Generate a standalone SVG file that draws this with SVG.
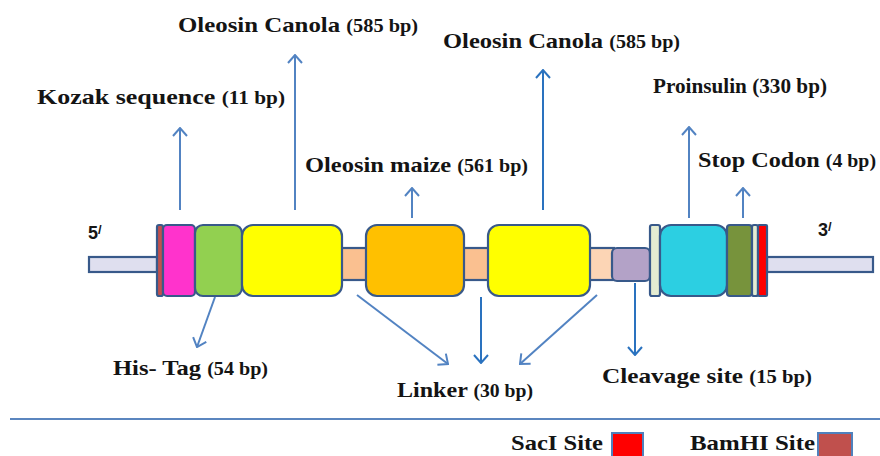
<svg xmlns="http://www.w3.org/2000/svg" width="880" height="456" viewBox="0 0 880 456">
<style>
.bx{stroke:#38598a;stroke-width:2.2}
.t{font-family:"Liberation Serif","Times New Roman",serif;font-weight:bold;fill:#141414;font-size:22px}
.s{font-size:18px}
.end{font-family:"Liberation Sans",Arial,sans-serif;font-weight:bold;font-size:18px;fill:#161616}
.c1{stroke:#5283c2;stroke-width:2;fill:none}
.c2{stroke:#2a72bf;stroke-width:2;fill:none}
</style>
<defs>
<marker id="a1" viewBox="0 0 16 16" markerWidth="16" markerHeight="16" refX="15" refY="8" markerUnits="userSpaceOnUse" orient="auto"><path d="M7,1 L15,8 L7,15" fill="none" stroke="#5283c2" stroke-width="2"/></marker>
<marker id="a2" viewBox="0 0 16 16" markerWidth="16" markerHeight="16" refX="15" refY="8" markerUnits="userSpaceOnUse" orient="auto"><path d="M7,1 L15,8 L7,15" fill="none" stroke="#2a72bf" stroke-width="2"/></marker>
</defs>
<rect width="880" height="456" fill="#ffffff"/>

<g id="connectors">
<line class="c1" x1="180" y1="210" x2="180" y2="128" marker-end="url(#a1)"/>
<line class="c1" x1="295" y1="210" x2="295" y2="55" marker-end="url(#a1)"/>
<line class="c1" x1="412" y1="218" x2="412" y2="188" marker-end="url(#a1)"/>
<line class="c2" x1="543" y1="210" x2="543" y2="70" marker-end="url(#a2)"/>
<line class="c1" x1="689" y1="218" x2="689" y2="127" marker-end="url(#a1)"/>
<line class="c1" x1="743" y1="218" x2="743" y2="188" marker-end="url(#a1)"/>
<line class="c1" x1="215" y1="297" x2="197" y2="347" marker-end="url(#a1)"/>
<line class="c1" x1="357" y1="295" x2="448" y2="364" marker-end="url(#a1)"/>
<line class="c2" x1="481" y1="297" x2="481" y2="363" marker-end="url(#a2)"/>
<line class="c1" x1="597" y1="295" x2="520" y2="364" marker-end="url(#a1)"/>
<line class="c2" x1="635" y1="283" x2="635" y2="355" marker-end="url(#a2)"/>
</g>

<g id="construct">
<rect id="line5" class="bx" x="89" y="257" width="68" height="15" fill="#dfdfef"/>
<rect id="line3" class="bx" x="767" y="257" width="106" height="15" fill="#dfdfef"/>
<rect id="linker1" class="bx" x="340" y="248" width="28" height="32" fill="#fac090"/>
<rect id="linker2" class="bx" x="462" y="248" width="28" height="32" fill="#fac090"/>
<rect id="linker3" class="bx" x="588" y="248" width="26" height="32" fill="#fcd5b5"/>
<rect id="bamhi" class="bx" x="157" y="225" width="6" height="71" rx="2" fill="#c0504d"/>
<rect id="kozak" class="bx" x="163" y="225" width="32" height="71" rx="4" fill="#ff33cc"/>
<rect id="histag" class="bx" x="195" y="225" width="47" height="71" rx="8" fill="#92d050"/>
<rect id="oleosin1" class="bx" x="242" y="225" width="100" height="71" rx="11" fill="#ffff00"/>
<rect id="maize" class="bx" x="366" y="225" width="98" height="71" rx="11" fill="#ffc000"/>
<rect id="oleosin2" class="bx" x="488" y="225" width="102" height="71" rx="11" fill="#ffff00"/>
<rect id="cleavage" class="bx" x="612" y="248" width="38" height="33" rx="5" fill="#b3a2c7"/>
<rect id="bar1" class="bx" x="650" y="225" width="10" height="71" rx="2" fill="#e4ecd2"/>
<rect id="proinsulin" class="bx" x="660" y="225" width="67" height="71" rx="11" fill="#2ccfe2"/>
<rect id="stop" class="bx" x="727" y="225" width="25" height="71" rx="3" fill="#77933c"/>
<rect id="bar2" class="bx" x="752" y="225" width="6" height="71" rx="2" fill="#e4ecd2"/>
<rect id="saci" class="bx" x="758" y="225" width="9" height="71" rx="1" fill="#ff0000"/>
</g>

<g id="labels">
<text class="end" x="88" y="239">5<tspan font-size="13" dy="-5">/</tspan></text>
<text class="end" x="818" y="236">3<tspan font-size="13" dy="-5">/</tspan></text>
<text class="t" x="178" y="32" textLength="240" lengthAdjust="spacingAndGlyphs">Oleosin Canola <tspan class="s">(585 bp)</tspan></text>
<text class="t" x="37" y="104" textLength="248" lengthAdjust="spacingAndGlyphs">Kozak sequence <tspan class="s">(11 bp)</tspan></text>
<text class="t" x="443" y="48" textLength="237" lengthAdjust="spacingAndGlyphs">Oleosin Canola <tspan class="s">(585 bp)</tspan></text>
<text class="t" x="653" y="93" textLength="174" lengthAdjust="spacingAndGlyphs" font-size="19">Proinsulin (330 bp)</text>
<text class="t" x="305" y="172" textLength="223" lengthAdjust="spacingAndGlyphs">Oleosin maize <tspan class="s">(561 bp)</tspan></text>
<text class="t" x="698" y="167" textLength="178" lengthAdjust="spacingAndGlyphs">Stop Codon <tspan class="s">(4 bp)</tspan></text>
<text class="t" x="113" y="375" textLength="155" lengthAdjust="spacingAndGlyphs">His- Tag <tspan class="s">(54 bp)</tspan></text>
<text class="t" x="397" y="397" textLength="136" lengthAdjust="spacingAndGlyphs">Linker <tspan class="s">(30 bp)</tspan></text>
<text class="t" x="602" y="383" textLength="210" lengthAdjust="spacingAndGlyphs">Cleavage site <tspan class="s">(15 bp)</tspan></text>
</g>

<line x1="10" y1="419" x2="880" y2="419" stroke="#5b86bf" stroke-width="2"/>

<g id="legend">
<text class="t" x="511" y="450" font-size="21" textLength="92" lengthAdjust="spacingAndGlyphs">SacI Site</text>
<rect x="612" y="433" width="31" height="30" fill="#ff0000" stroke="#4f81bd" stroke-width="2"/>
<text class="t" x="690" y="450" font-size="21" textLength="125" lengthAdjust="spacingAndGlyphs">BamHI Site</text>
<rect x="818" y="433" width="34" height="30" fill="#c0504d" stroke="#4f81bd" stroke-width="2"/>
</g>
</svg>
